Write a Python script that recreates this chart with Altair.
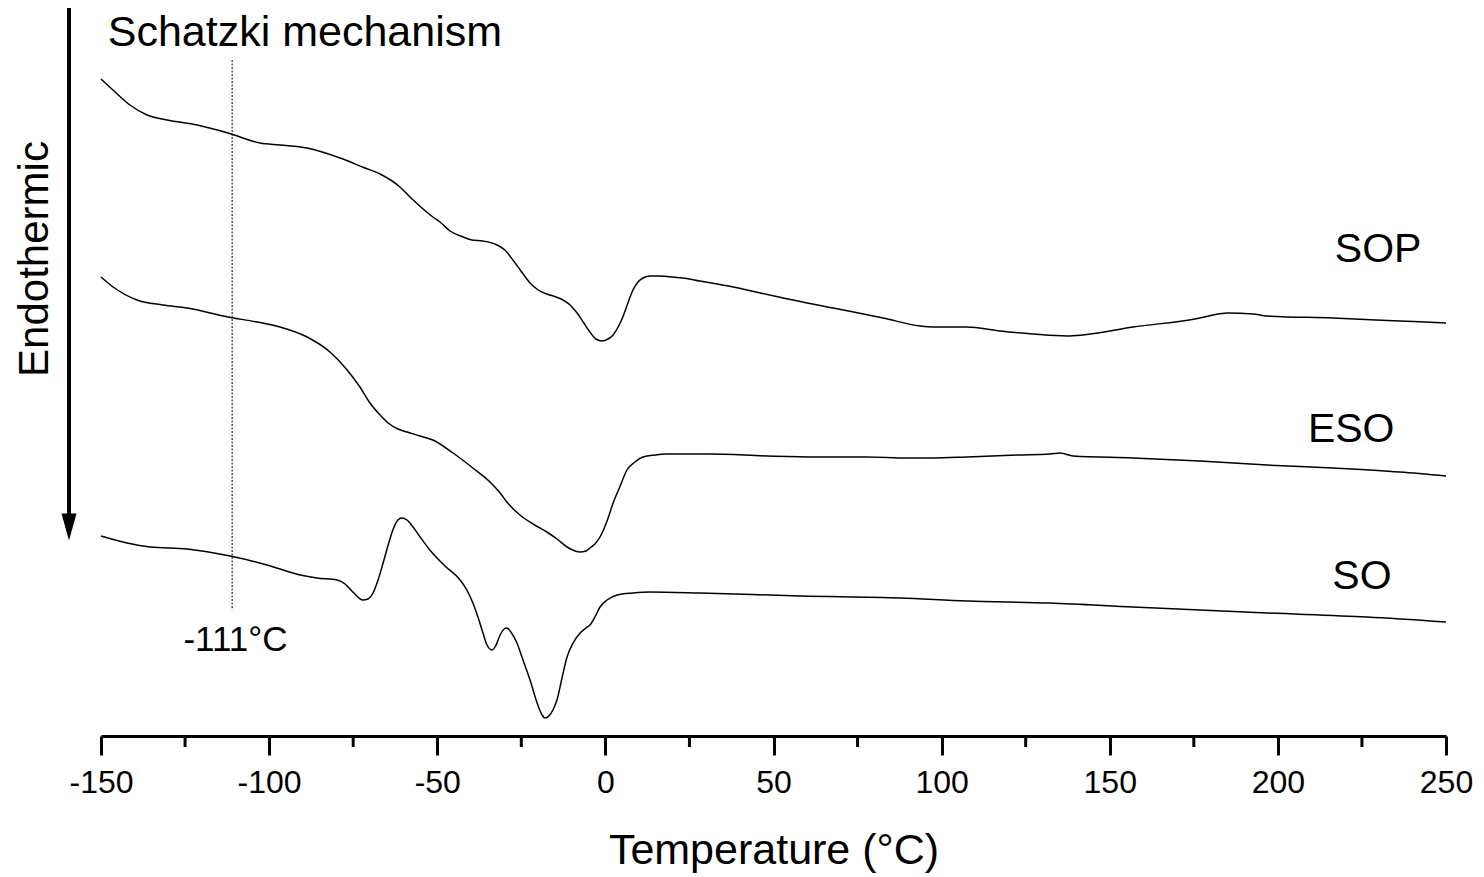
import altair as alt
import pandas as pd

# DSC traces: temperature (°C) and endothermic heat flow (a.u., drawn downward)
sop_temp = [-150, -145.8, -141.4, -136.3, -130.4, -121.4, -112.2, -102.7, -96.8, -88.7,
            -78.9, -71.5, -67.0, -61.1, -58.1, -51.3, -49.2, -46.2, -42.3, -39.7,
            -36.4, -32.2, -29.9, -27.5, -25.1, -22.4, -20.0, -17.4, -14.7, -12.6,
            -10.5, -8.4, -6.4, -4.6, -2.8, -1.0, 0.8, 2.3, 3.8, 5.2,
            6.7, 8.2, 9.7, 11.2, 13.3, 16.2, 20.1, 23.1, 28.1, 38.0,
            52.8, 67.7, 82.6, 93.6, 97.4, 107.5, 117.4, 127.2, 137.3, 142.0,
            156.9, 176.8, 180.7, 184.9, 192.6, 196.8, 216.4, 236.3, 250]
sop_flow = [79, 92, 105, 115, 120, 125, 133, 143, 145, 148,
            158, 168, 174, 187, 197, 217, 222, 231, 237, 240,
            241, 245, 250, 260, 271, 283, 290, 294, 297, 300,
            305, 313, 323, 332, 339, 341, 339, 335, 327, 317,
            303, 290, 282, 278, 276, 276, 277, 278, 281, 287,
            298, 308, 318, 326, 327, 327, 331, 334, 336, 335,
            327, 318, 315, 313, 314, 316, 318, 321, 323]

eso_temp = [-150, -146.4, -139.3, -131.6, -124.4, -112.2, -103.6, -96.8, -88.7, -81.9,
            -76.8, -73.0, -70.0, -67.0, -64.6, -61.7, -59.0, -55.1, -51.3, -45.3,
            -39.4, -34.3, -31.3, -29.3, -25.4, -21.5, -17.4, -14.4, -11.4, -9.0,
            -7.5, -5.8, -4.6, -3.1, -1.6, 0.5, 2.3, 4.4, 6.4, 8.8,
            11.2, 14.8, 18.3, 31.1, 48.1, 62.9, 77.8, 89.7, 97.4, 107.5,
            122.4, 132.2, 135.2, 139.1, 156.9, 176.8, 196.8, 216.4, 236.3, 250]
eso_flow = [277, 287, 300, 305, 308, 317, 322, 327, 337, 352,
            370, 387, 403, 415, 423, 429, 432, 436, 440, 453,
            468, 482, 493, 502, 515, 524, 532, 539, 547, 551,
            552, 551, 548, 544, 537, 521, 503, 486, 470, 462,
            457, 455, 454, 454, 456, 457, 457, 458, 458, 457,
            455, 454, 453, 456, 458, 461, 465, 468, 472, 476]

so_temp = [-150, -142.3, -135.4, -124.4, -111.6, -100.6, -90.8, -85.8, -79.8, -77.4,
           -75.1, -72.1, -70.6, -69.1, -67.6, -66.1, -64.6, -63.2, -61.7, -60.5,
           -59.0, -57.2, -55.1, -52.2, -47.7, -43.2, -41.2, -39.4, -37.9, -36.4,
           -35.2, -33.7, -32.5, -31.3, -30.1, -29.3, -28.1, -26.3, -24.5, -22.4,
           -20.3, -18.8, -18.0, -16.8, -15.6, -14.4, -12.9, -11.4, -9.6, -7.5,
           -5.8, -4.6, -3.1, -1.6, 0.5, 3.5, 8.2, 13.3, 28.1, 57.9,
           87.6, 107.5, 132.2, 156.9, 196.8, 226.5, 250]
so_flow = [536, 543, 547, 549, 556, 565, 575, 578, 580, 584,
           592, 600, 599, 593, 580, 563, 545, 530, 520, 518,
           520, 527, 537, 550, 566, 580, 590, 603, 617, 633,
           645, 650, 645, 635, 629, 628, 632, 643, 660, 680,
           703, 715, 718, 716, 710, 700, 678, 657, 643, 633,
           628, 625, 617, 607, 600, 595, 593, 592, 593, 596,
           598, 601, 603, 607, 613, 617, 622]

major_ticks = [-150, -100, -50, 0, 50, 100, 150, 200, 250]
minor_ticks = [-125, -75, -25, 25, 75, 125, 175, 225]

sample_names = ["SOP", "ESO", "SO"]
sample_label_temp = [229.8, 221.8, 225.0]
sample_label_flow = [250, 430, 577]

schatzki_temp = -111
schatzki_text = "Schatzki mechanism"
schatzki_label = "-111°C"

FONT = "Liberation Sans"
W, H = 1345, 736

curves = pd.concat([
    pd.DataFrame({"T": sop_temp, "flow": sop_flow, "sample": "SOP"}),
    pd.DataFrame({"T": eso_temp, "flow": eso_flow, "sample": "ESO"}),
    pd.DataFrame({"T": so_temp, "flow": so_flow, "sample": "SO"}),
])

x_enc = alt.X(
    "T:Q",
    title="Temperature (°C)",
    scale=alt.Scale(domain=[-150, 250], nice=False, zero=False),
    axis=alt.Axis(
        values=major_ticks, labelExpr="'' + datum.value", grid=False,
        domainColor="black", domainWidth=3,
        tickColor="black", tickWidth=3, tickSize=19,
        labelFont=FONT, labelFontSize=32, labelColor="black", labelPadding=12,
        labelFlush=False, labelOverlap=False,
        titleFont=FONT, titleFontSize=43, titleFontWeight="normal",
        titleColor="black", titlePadding=31,
    ),
)
y_enc = alt.Y(
    "flow:Q",
    scale=alt.Scale(domain=[0, H], reverse=True, nice=False, zero=False),
    axis=None,
)

lines = alt.Chart(curves).mark_line(
    color="black", strokeWidth=1.5, interpolate="monotone"
).encode(x=x_enc, y=y_enc, detail="sample:N")

minor = alt.Chart(pd.DataFrame({"T": minor_ticks})).mark_rule(
    color="black", strokeWidth=3
).encode(x=x_enc, y=alt.value(H), y2=alt.value(H + 11))

guide = alt.Chart(pd.DataFrame({"T": [schatzki_temp], "flow": [60], "flow2": [610]})).mark_rule(
    color="black", strokeWidth=1, strokeDash=[2, 1.5]
).encode(x=x_enc, y=y_enc, y2="flow2:Q")

sample_labels = alt.Chart(pd.DataFrame({
    "T": sample_label_temp, "flow": sample_label_flow, "name": sample_names
})).mark_text(font=FONT, fontSize=41, color="black", align="center", baseline="middle").encode(
    x=x_enc, y=y_enc, text="name:N"
)

schatzki_title = alt.Chart(pd.DataFrame({"T": [-148], "flow": [33], "txt": [schatzki_text]})).mark_text(
    font=FONT, fontSize=43, color="black", align="left", baseline="middle"
).encode(x=x_enc, y=y_enc, text="txt:N")

schatzki_temp_label = alt.Chart(pd.DataFrame({"T": [-110], "flow": [640], "txt": [schatzki_label]})).mark_text(
    font=FONT, fontSize=35, color="black", align="center", baseline="middle"
).encode(x=x_enc, y=y_enc, text="txt:N")

one = pd.DataFrame({"txt": ["Endothermic"]})

arrow_shaft = alt.Chart(one).mark_rule(color="black", strokeWidth=4).encode(
    x=alt.value(-32), y=alt.value(8), y2=alt.value(516)
)
arrow_head = alt.Chart(one).mark_point(
    shape="M -1 -1.8 L 1 -1.8 L 0 1.8 Z", size=225, filled=True,
    color="black", opacity=1, strokeWidth=0
).encode(x=alt.value(-32), y=alt.value(527))

endo_label = alt.Chart(one).mark_text(
    font=FONT, fontSize=42, color="black", angle=270, align="center", baseline="middle"
).encode(x=alt.value(-66), y=alt.value(259), text="txt:N")

chart = alt.layer(
    guide, lines, minor, sample_labels, schatzki_title, schatzki_temp_label,
    arrow_shaft, arrow_head, endo_label
).properties(
    width=W, height=H,
    autosize=alt.AutoSizeParams(type="none"),
    padding={"left": 101, "top": 0, "right": 38, "bottom": 141},
    background="white",
).configure_view(stroke=None)

chart.save("out.html", embed_options={"renderer": "svg", "actions": False})
